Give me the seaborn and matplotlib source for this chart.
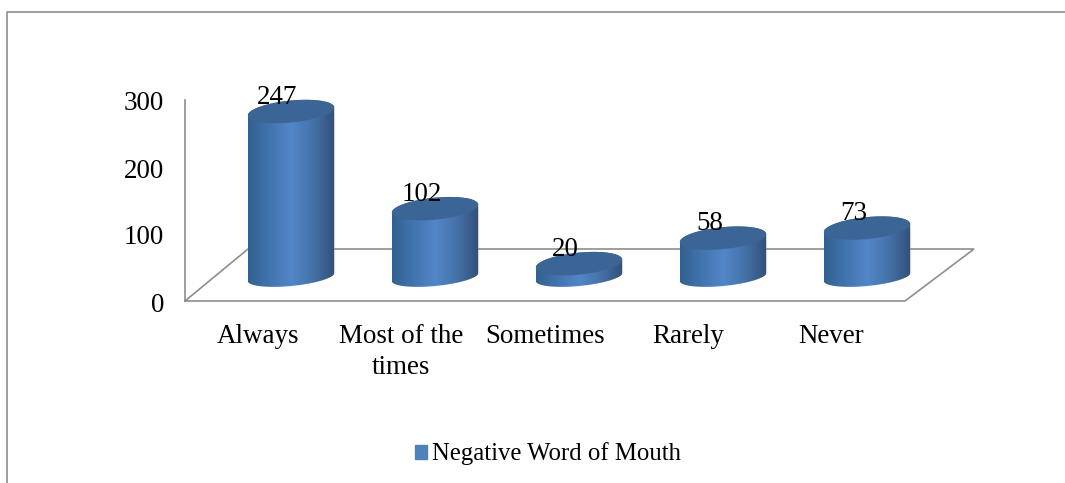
import numpy as np
import pandas as pd
import seaborn as sns
import matplotlib.pyplot as plt
from matplotlib.colors import LinearSegmentedColormap
from matplotlib.lines import Line2D
from matplotlib.patches import Patch, PathPatch
from matplotlib.path import Path
from matplotlib.transforms import ScaledTranslation

categories = ['Always', 'Most of the\ntimes', 'Sometimes', 'Rarely', 'Never']
values = [247, 102, 20, 58, 73]
y_ticks = [0, 100, 200, 300]
series_name = 'Negative Word of Mouth'

W, H = 1065, 483
GREY = '#8e8e8e'
BLUE = '#4f81bd'
TOP = '#3b6594'
TXT = 27 * 72 / 100
LEG = 24.7 * 72 / 100

sns.set_theme(style='white', font='Liberation Serif')
plt.rcParams['font.family'] = ['Liberation Serif', 'DejaVu Serif']

fig = plt.figure(figsize=(W / 100, H / 100), dpi=100, facecolor='white')

# main axes holds the cylinders, goes from the top of the image down to the labels
ax_bottom = 318
ax = fig.add_axes([0, 1 - ax_bottom / H, 1, ax_bottom / H])
ax.patch.set_alpha(0)

df = pd.DataFrame({'category': categories, 'value': values})
sns.barplot(data=df, x='category', y='value', color=BLUE, saturation=1, width=0.6, ax=ax)

# same pixels per unit for bars and value axis
scale = 201 / 300
base_py = 277
xlim = (-291 / 144, (W - 291) / 144)
ylim = ((base_py - ax_bottom) / scale, base_py / scale)


def px(x, y):
    return (x - 291) / 144, (base_py - y) / scale


# grey floor of the 3d box
floor = [(185, 301), (905, 301), (974, 249), (248, 249), (185, 301)]
ax.plot(*zip(*[px(a, b) for a, b in floor]), color=GREY, lw=1.2, zorder=1, solid_joinstyle='miter')

cmap = LinearSegmentedColormap.from_list(
    'cyl', [(0, '#33608f'), (0.2, '#3f70a8'), (0.5, '#5186ca'), (0.75, '#4672a8'), (1, '#32507a')])
shade = np.linspace(0, 1, 256).reshape(1, -1)
half_h = 11 / scale
tilt = 4 / scale
t = np.linspace(0, 2 * np.pi, 80)

for bar, v in zip(ax.patches, values):
    left, w = bar.get_x(), bar.get_width()
    cx = left + w / 2
    # top rim and bottom rim lean a bit, like the 3d view
    xs = cx + w / 2 * np.cos(t)
    top_y = v + half_h * np.sin(t) + tilt * np.cos(t)
    low = np.linspace(np.pi, 2 * np.pi, 40)
    bot_x = cx + w / 2 * np.cos(low)
    bot_y = 0.82 * half_h * np.sin(low) + tilt * np.cos(low)
    up = np.linspace(0, np.pi, 40)
    up_x = cx + w / 2 * np.cos(up)
    up_y = v + half_h * np.sin(up) + tilt * np.cos(up)
    body = Path(np.column_stack([np.r_[bot_x, up_x], np.r_[bot_y, up_y]]))
    bar.set_zorder(2)
    bar.set_clip_path(body, ax.transData)
    im = ax.imshow(shade, cmap=cmap, aspect='auto', zorder=3,
                   extent=(left, left + w, -half_h - tilt, v + half_h + tilt))
    im.set_clip_path(body, ax.transData)
    ax.add_patch(PathPatch(Path(np.column_stack([xs, top_y])), fc=TOP, ec='none', zorder=4))
    ax.text(cx - 13.5 / 144, v + 14.5 / scale, str(v), ha='center', va='center',
            fontsize=TXT, color='black', zorder=5)

ax.set_xlim(xlim)
ax.set_ylim(ylim)
# labels run a bit tighter than the bars do
ax.set_xticks(np.arange(len(categories)) * 143.3 / 144 - 33 / 144)
ax.set_xticklabels(categories, fontsize=TXT, color='black', linespacing=1.32)
ax.tick_params(axis='x', length=0, pad=4)
ax.set_xlabel('')
ax.set_ylabel('')
ax.set_yticks([])
for s in ax.spines.values():
    s.set_visible(False)

# value axis, sits in front of the floor
ax_y = fig.add_axes([185 / W, 1 - 301 / H, 1 / W, 201 / H])
ax_y.patch.set_alpha(0)
ax_y.set_ylim(0, 300)
ax_y.set_yticks(y_ticks)
ax_y.set_yticklabels([str(v) for v in y_ticks], fontsize=TXT, color='black')
ax_y.set_xticks([])
ax_y.tick_params(axis='y', length=0, pad=15)
nudge = ScaledTranslation(0, -1.0 / 100, fig.dpi_scale_trans)
for lab in ax_y.get_yticklabels():
    lab.set_transform(lab.get_transform() + nudge)
for name, s in ax_y.spines.items():
    s.set_visible(name == 'left')
ax_y.spines['left'].set_color(GREY)
ax_y.spines['left'].set_linewidth(1.2)

# outer chart border, only left and top are inside the crop
fig.add_artist(Line2D([7 / W, 7 / W, 1], [0, 1 - 12 / H, 1 - 12 / H], color=GREY, lw=1.2))

fig.legend(handles=[Patch(color=BLUE, label=series_name)], loc='center', frameon=False,
           bbox_to_anchor=(548 / W, 1 - 454 / H), fontsize=LEG,
           handlelength=0.52, handleheight=0.52, handletextpad=0.2, labelcolor='black')

fig.savefig('out.png', dpi=100)
